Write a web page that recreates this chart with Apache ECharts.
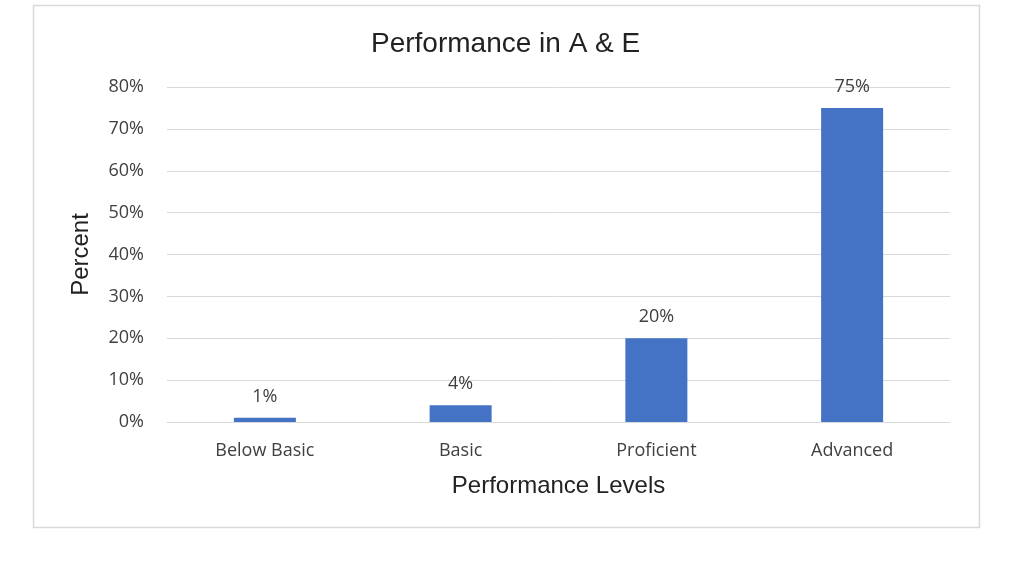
<!DOCTYPE html>
<html><head><meta charset="utf-8">
<script src="https://cdn.jsdelivr.net/npm/echarts@6/dist/echarts.min.js"></script>
<style>html,body{margin:0;padding:0;background:#fff}#c{width:1024px;height:576px}</style>
</head><body><div id="c"></div>
<script>
const categories = ['Below Basic', 'Basic', 'Proficient', 'Advanced'];
const values = [1, 4, 20, 75];
const yTicks = [0, 10, 20, 30, 40, 50, 60, 70, 80];
const tickFont = '"Open Sans", Lato, sans-serif';
const headFont = '"Liberation Sans", Arial, sans-serif';
const chart = echarts.init(document.getElementById('c'));
chart.setOption({
  animation: false,
  graphic: [{type: 'rect', shape: {x: 33.5, y: 5.5, width: 946, height: 522}, style: {fill: 'none', stroke: '#d9d9d9', lineWidth: 1.5}, silent: true}],
  title: {text: 'Performance in A & E', left: 366, top: 25, textStyle: {fontFamily: headFont, fontSize: 28, fontWeight: 'normal', color: '#222'}},
  grid: {left: 167, right: 74, top: 87, bottom: 154, containLabel: false},
  xAxis: {type: 'category', data: categories,
    name: 'Performance Levels', nameLocation: 'middle', nameGap: 52,
    nameTextStyle: {fontFamily: headFont, fontSize: 24, color: '#222'},
    axisLine: {lineStyle: {color: '#d9d9d9', width: 1}}, axisTick: {show: false},
    axisLabel: {fontFamily: tickFont, fontSize: 18, color: '#404040', margin: 20}},
  yAxis: {type: 'value', min: 0, max: 80, interval: 10,
    name: 'Percent', nameLocation: 'middle', nameGap: 74, nameRotate: 90,
    nameTextStyle: {fontFamily: headFont, fontSize: 24, color: '#222'},
    axisLine: {show: false}, axisTick: {show: false},
    splitLine: {lineStyle: {color: '#d9d9d9', width: 1}},
    axisLabel: {fontFamily: tickFont, fontSize: 18, color: '#404040', margin: 23,
      formatter: v => yTicks.includes(v) ? v + '%' : ''}},
  series: [{type: 'bar', data: values, barWidth: 62,
    itemStyle: {color: '#4472C4'},
    label: {show: true, position: 'top', distance: 12, formatter: p => p.value + '%',
      fontFamily: tickFont, fontSize: 18, color: '#404040'}}]
});
</script></body></html>
